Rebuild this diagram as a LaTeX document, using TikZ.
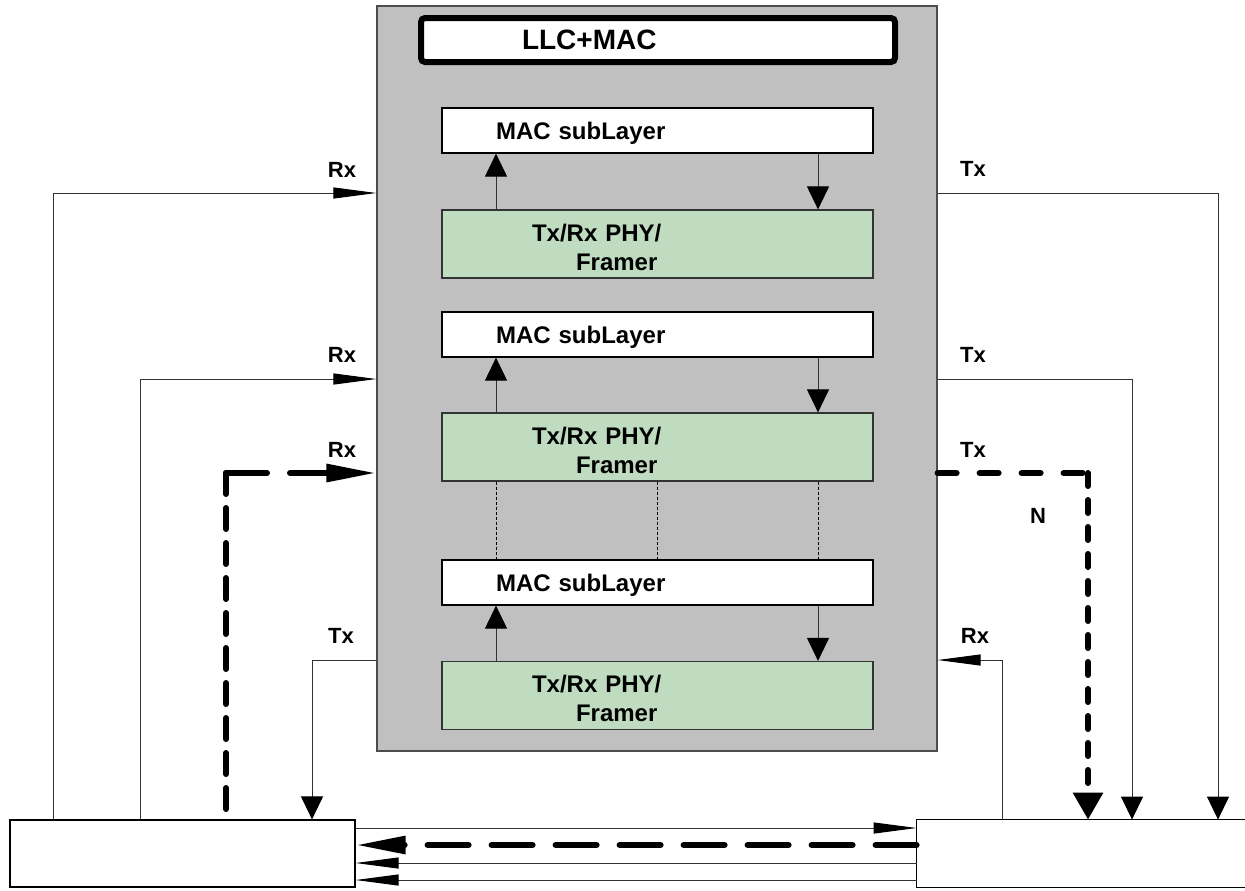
\documentclass[tikz,border=0pt]{standalone}
\usepackage{fontspec}
\setmainfont{Liberation Sans}
\usetikzlibrary{arrows.meta}
\definecolor{entgray}{RGB}{192,192,192}
\definecolor{phygreen}{RGB}{191,220,192}
\definecolor{wirec}{RGB}{50,50,50}
\tikzset{
  htip/.tip={Triangle[length=21.5pt,width=5.5pt,color=black]},
  vtip/.tip={Triangle[length=11.5pt,width=11pt,color=black]},
  bigh/.tip={Triangle[length=25pt,width=8.5pt,color=black]},
  bigv/.tip={Triangle[length=13.5pt,width=14.5pt,color=black]},
}
\begin{document}
\begin{tikzpicture}[x=0.5pt,y=-0.5pt,
  lbl/.style={inner sep=0pt,font=\fontsize{11}{13}\selectfont\bfseries},
  macbox/.style={draw=black,fill=white,line width=0.6pt,minimum width=215.5pt,minimum height=22.5pt,
     inner xsep=0pt,inner ysep=0pt,text width=215.5pt,text depth=0pt,align=left,font=\fontsize{12}{14}\selectfont\bfseries},
  phybox/.style={draw=black!80,fill=phygreen,line width=0.6pt,minimum width=215.5pt,minimum height=34pt,
     inner xsep=0pt,inner ysep=0pt,text width=215.5pt,text depth=11.5pt,align=left,font=\fontsize{12}{14.5}\selectfont\bfseries},
  endbox/.style={minimum width=172.5pt,minimum height=33.5pt,inner sep=0pt},
  wire/.style={draw=wirec,line width=0.5pt},
  bigdash/.style={line width=3pt,line cap=round,line join=round,draw=black},
  longdash/.style={bigdash,dash pattern=on 20.5pt off 11.5pt},
  shortdash/.style={bigdash,dash pattern=on 9.5pt off 11.5pt},
  vdash/.style={bigdash,dash pattern=on 10.5pt off 7pt},
  ndash/.style={bigdash,dash pattern=on 6.5pt off 7pt},
  dotline/.style={draw=black,line width=0.4pt,dash pattern=on 1.5pt off 1pt},
]
\useasboundingbox (0,0) rectangle (1245,890);

% entity box
\node[draw=black!70,fill=entgray,line width=0.6pt,minimum width=280pt,minimum height=372.5pt,inner sep=0pt] (ent) at (657,378.5) {};
\node[draw=black,fill=white,line width=3pt,rounded corners=2pt,minimum width=237pt,minimum height=22pt,
      inner xsep=0pt,inner ysep=0pt,text width=237pt,text depth=0pt,align=left,font=\fontsize{14}{16}\selectfont\bfseries]
      (llc) at (658,40) {\hspace*{50.5pt}LLC+MAC};

% sublayers
\node[macbox] (mac1) at (657.5,130.5) {\hspace*{27pt}MAC subLayer};
\node[phybox] (phy1) at (657.5,244) {\hspace*{45pt}Tx/Rx PHY/\\\hspace*{67pt}Framer};
\node[macbox] (mac2) at (657.5,334.5) {\hspace*{27pt}MAC subLayer};
\node[phybox] (phy2) at (657.5,447) {\hspace*{45pt}Tx/Rx PHY/\\\hspace*{67pt}Framer};
\node[macbox] (mac3) at (657.5,582.5) {\hspace*{27pt}MAC subLayer};
\node[phybox] (phy3) at (657.5,695.5) {\hspace*{45pt}Tx/Rx PHY/\\\hspace*{67pt}Framer};

% end boxes
\node[endbox,draw=black,line width=0.6pt,fill=white] (lbox) at (182.5,853.5) {};
\node[endbox,minimum width=164pt] (rbox) at (1081,853.5) {};
\draw[line width=0.6pt] (rbox.north east) -- (rbox.north west) -- (rbox.south west) -- (rbox.south east);

% helper coordinates
\coordinate (k1) at (53,193);
\coordinate (k2) at (140,379);
\coordinate (k3) at (226,473);
\coordinate (k4) at (312,660);
\coordinate (m1) at (1218,193);
\coordinate (m2) at (1132,379);
\coordinate (m3) at (1088,473);
\coordinate (m4) at (1002,660);
\coordinate (ax) at (496,0);
\coordinate (bx) at (657,0);
\coordinate (dx) at (818,0);
\coordinate (h1) at (600,828);
\coordinate (h2) at (600,845);
\coordinate (h3) at (600,863);
\coordinate (h4) at (600,880);

% inner arrows
\foreach \i in {1,2,3}{
  \draw[wire,-vtip] (phy\i.north -| ax) -- (mac\i.south -| ax);
  \draw[wire,-vtip] (mac\i.south -| dx) -- (phy\i.north -| dx);
}
\draw[dotline] (phy2.south -| ax) -- (mac3.north -| ax);
\draw[dotline] (phy2.south -| bx) -- (mac3.north -| bx);
\draw[dotline] (phy2.south -| dx) -- (mac3.north -| dx);

% left side
\draw[wire,-htip] (k1 |- lbox.north) -- (k1) -- (k1 -| ent.west);
\draw[wire,-htip] (k2 |- lbox.north) -- (k2) -- (k2 -| ent.west);
\draw[vdash] (k3) -- (k3 |- lbox.north);
\draw[longdash,-bigh] (k3) -- (k3 -| ent.west);
\draw[wire,-vtip] (k4 -| ent.west) -- (k4) -- (k4 |- lbox.north);

% right side
\draw[wire,-vtip] (m1 -| ent.east) -- (m1) -- (m1 |- rbox.north);
\draw[wire,-vtip] (m2 -| ent.east) -- (m2) -- (m2 |- rbox.north);
\draw[shortdash] (m3 -| ent.east) -- (m3);
\draw[ndash,-bigv] (m3) -- (m3 |- rbox.north);
\draw[wire,-htip] (m4 |- rbox.north) -- (m4) -- (m4 -| ent.east);

% bottom links
\draw[wire,-htip] (h1 -| lbox.east) -- (h1 -| rbox.west);
\draw[longdash,-bigh] (h2 -| rbox.west) -- (h2 -| lbox.east);
\draw[wire,-htip] (h3 -| rbox.west) -- (h3 -| lbox.east);
\draw[wire,-htip] (h4 -| rbox.west) -- (h4 -| lbox.east);

% labels
\node[lbl] (lrx1) at (342,170) {Rx};
\node[lbl] (lrx2) at (342,355) {Rx};
\node[lbl] (lrx3) at (342,450) {Rx};
\node[lbl] (ltx4) at (341,636) {Tx};
\node[lbl] (rtx1) at (973,169) {Tx};
\node[lbl] (rtx2) at (973,355) {Tx};
\node[lbl] (rtx3) at (973,450) {Tx};
\node[lbl] (rrx4) at (975,636) {Rx};
\node[lbl] (nlab) at (1038,516) {N};
\end{tikzpicture}
\end{document}
